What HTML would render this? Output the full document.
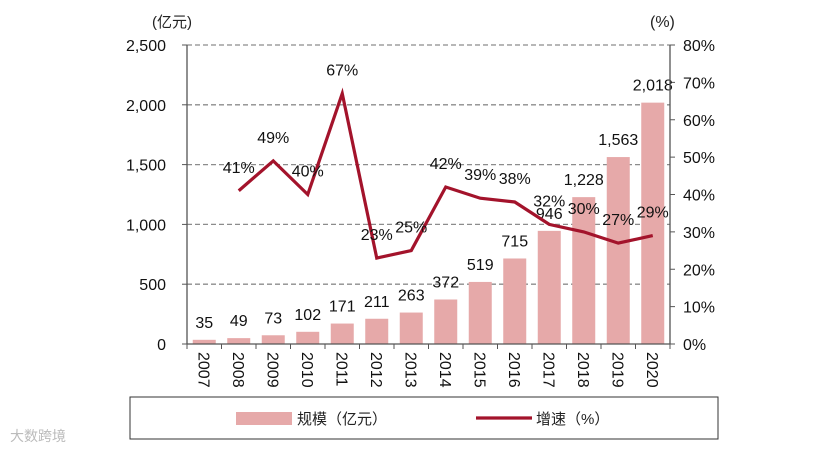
<!DOCTYPE html>
<html><head><meta charset="utf-8"><style>
body{margin:0;background:#fff;}
svg{display:block;font-family:"Liberation Sans","Noto Sans CJK SC",sans-serif;}
</style></head><body>
<svg id="c" width="835" height="450"></svg>
<script>
const years=["2007","2008","2009","2010","2011","2012","2013","2014","2015","2016","2017","2018","2019","2020"];
const scale=[35,49,73,102,171,211,263,372,519,715,946,1228,1563,2018];
const scaleLabels=["35","49","73","102","171","211","263","372","519","715","946","1,228","1,563","2,018"];
const growth=[null,41,49,40,67,23,25,42,39,38,32,30,27,29];
const leftTicks=[0,500,1000,1500,2000,2500];
const leftTickLabels=["0","500","1,000","1,500","2,000","2,500"];
const rightTicks=[0,10,20,30,40,50,60,70,80];

const NS="http://www.w3.org/2000/svg";
const svg=document.getElementById('c');
const L=187,R=670,T=45,B=344;
const bw=(R-L)/years.length;
const xc=i=>L+bw*(i+0.5);
const yl=v=>B-(v/2500)*(B-T);
const yr=v=>B-(v/80)*(B-T);
function mk(tag,attrs,text){const e=document.createElementNS(NS,tag);for(const k in attrs)e.setAttribute(k,attrs[k]);if(text!=null)e.textContent=text;svg.appendChild(e);return e;}

// gridlines
leftTicks.forEach((v,i)=>{
  if(v>0){const g=mk('line',{x1:L,x2:R,y1:yl(v),y2:yl(v),stroke:'#8c8c8c','stroke-width':1.3,'stroke-dasharray':'5,3'});
  
  }
  const t=mk('text',{x:166,y:yl(v)+6,'text-anchor':'end','font-size':16,fill:'#111'},leftTickLabels[i]);
  
  
  mk('line',{x1:L-5,x2:L,y1:yl(v),y2:yl(v),stroke:'#555'});
});
rightTicks.forEach(v=>{
  mk('line',{x1:R,x2:R+5,y1:yr(v),y2:yr(v),stroke:'#555'});
  const t=mk('text',{x:683,y:yr(v)+6,'font-size':16,fill:'#111'},v+'%');
  
  
});
// bars
scale.forEach((v,i)=>{
  const b=mk('rect',{x:xc(i)-11.5,y:yl(v),width:23,height:B-yl(v),fill:'#e6a9a9'});
  
  
  const t=mk('text',{x:xc(i),y:yl(v)-12,'text-anchor':'middle','font-size':16,fill:'#111'},scaleLabels[i]);
  
  
});
// axes
mk('line',{x1:L,x2:L,y1:T,y2:B,stroke:'#555','stroke-width':1.3});
mk('line',{x1:R,x2:R,y1:T,y2:B,stroke:'#555','stroke-width':1.3});
mk('line',{x1:L,x2:R,y1:B,y2:B,stroke:'#555','stroke-width':1.3});
years.forEach((y,i)=>{
  mk('line',{x1:L+bw*i,x2:L+bw*i,y1:B,y2:B+5,stroke:'#555'});
  const t=mk('text',{x:0,y:0,'font-size':16,fill:'#111',transform:`translate(${xc(i)-6},${B+8}) rotate(90)`},y);
  
  
});
mk('line',{x1:R,x2:R,y1:B,y2:B+5,stroke:'#555'});
// line
let d='';
growth.forEach((v,i)=>{if(v==null)return;d+=(d?'L':'M')+xc(i)+','+yr(v);});
const p=mk('path',{d:d,fill:'none',stroke:'#a3132b','stroke-width':3.2,'stroke-linejoin':'miter'});


growth.forEach((v,i)=>{if(v==null)return;
  const t=mk('text',{x:xc(i),y:yr(v)-18,'text-anchor':'middle','font-size':16,fill:'#111'},v+'%');
  
  
});
// axis titles
const a1=mk('text',{x:152,y:27,'font-size':15,fill:'#222'},'(亿元)');


const a2=mk('text',{x:650,y:27,'font-size':16,fill:'#222'},'(%)');


// legend
const lg=mk('rect',{x:130,y:397,width:588,height:42,fill:'#fff',stroke:'#333','stroke-width':1});


mk('rect',{x:236,y:412,width:56,height:13,fill:'#e6a9a9'});
const l1=mk('text',{x:297,y:424,'font-size':15,fill:'#222'},'规模（亿元）');


mk('line',{x1:476,x2:532,y1:418,y2:418,stroke:'#a3132b','stroke-width':3.2});
const l2=mk('text',{x:536,y:424,'font-size':15,fill:'#222'},'增速（%）');


const wm=mk('text',{x:10,y:441,'font-size':14,fill:'#bbb'},'大数跨境');


</script>
</body></html>
